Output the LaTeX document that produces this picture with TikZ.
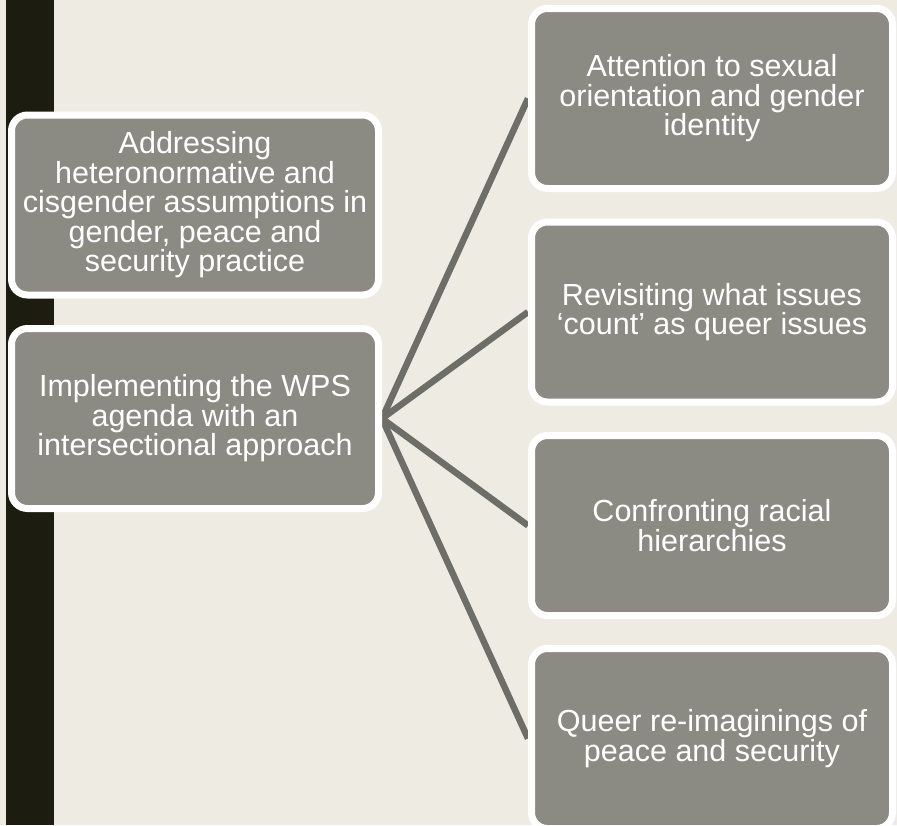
\documentclass[tikz,border=0pt]{standalone}
\usepackage{fontspec}
\setmainfont{Liberation Sans}
\usetikzlibrary{backgrounds}
\definecolor{bgbeige}{RGB}{238,235,227}
\definecolor{darkstrip}{RGB}{28,28,16}
\definecolor{boxgray}{RGB}{139,139,132}
\definecolor{linkgray}{RGB}{110,110,104}
\tikzset{
  box/.style={draw=white, line width=7pt, fill=boxgray, rounded corners=16pt,
    text=white, align=center, inner sep=0pt,
    font=\fontsize{30.5}{29.5}\selectfont},
  leftbox/.style={box, minimum width=367pt, minimum height=180pt},
  rightbox/.style={box, minimum width=361pt, minimum height=180pt},
  link/.style={draw=linkgray, line width=6.5pt}
}
\begin{document}
\begin{tikzpicture}[x=1pt,y=-1pt]
\useasboundingbox (0,0) rectangle (897,825);

\node[leftbox] (l1) at (195,205) {Addressing\\heteronormative and\\cisgender assumptions in\\gender, peace and\\security practice};
\node[leftbox] (l2) at (195,418.5) {Implementing the WPS\\agenda with an\\intersectional approach};

\node[rightbox] (r1) at (712,98.5) {Attention to sexual\\orientation and gender\\identity};
\node[rightbox] (r2) at (712,312) {Revisiting what issues\\‘count’ as queer issues};
\node[rightbox] (r3) at (712,525.5) {Confronting racial\\hierarchies};
\node[rightbox] (r4) at (712,738.5) {Queer re-imaginings of\\peace and security};

\begin{pgfonlayer}{background}
\fill[bgbeige] (0,0) rectangle (897,825);
\fill[darkstrip] (6,0) rectangle (54,825);
\draw[link] (l2.east) -- (r1.west);
\draw[link] (l2.east) -- (r2.west);
\draw[link] (l2.east) -- (r3.west);
\draw[link] (l2.east) -- (r4.west);
\end{pgfonlayer}
\end{tikzpicture}
\end{document}
